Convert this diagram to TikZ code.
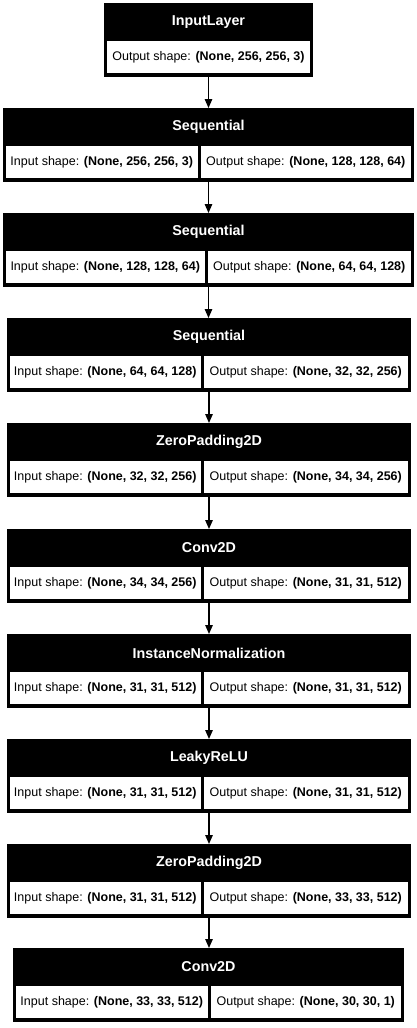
\documentclass[tikz,border=0pt]{standalone}
\usepackage{fontspec}
\setmainfont{Liberation Sans}
\usetikzlibrary{arrows.meta}

\def\BoxH{74}
\def\HeadH{38}
\def\CellH{32}

\tikzset{
  layerbox/.style={fill=black, inner sep=0pt, outer sep=0pt, anchor=north west, minimum height=\BoxH},
  headtext/.style={text=white, font=\fontsize{14.3}{16}\selectfont\bfseries, inner sep=0pt},
  cellbox/.style={fill=white, inner sep=0pt, outer sep=0pt, anchor=north west, minimum height=\CellH, font=\fontsize{12.5}{14}\selectfont},
  flow/.style={line width=1.3pt, -{Triangle[length=9pt,width=7.5pt]}},
}

\begin{document}
\begin{tikzpicture}[x=1pt,y=-1pt]
  \useasboundingbox (0,0) rectangle (416,1028);

  % --- Entrada ---
  \node[layerbox, minimum width=209] (L0) at (104,3) {};
  \node[headtext] (H0) at (208.5,3+19) {InputLayer};
  \node[cellbox, minimum width=203] (O0) at (107,3+\HeadH) {Output shape: \textbf{(None, 256, 256, 3)}};

  % --- Capas ---
  \foreach \i/\top/\L/\R/\D/\name/\inp/\outp in {%
    1/108/3/414/199/Sequential/{(None, 256, 256, 3)}/{(None, 128, 128, 64)},
    2/213/3/414/206/Sequential/{(None, 128, 128, 64)}/{(None, 64, 64, 128)},
    3/318/7/411/202/Sequential/{(None, 64, 64, 128)}/{(None, 32, 32, 256)},
    4/423/7/411/202/ZeroPadding2D/{(None, 32, 32, 256)}/{(None, 34, 34, 256)},
    5/529/7/411/202/Conv2D/{(None, 34, 34, 256)}/{(None, 31, 31, 512)},
    6/634/7/411/202/InstanceNormalization/{(None, 31, 31, 512)}/{(None, 31, 31, 512)},
    7/739/7/411/202/LeakyReLU/{(None, 31, 31, 512)}/{(None, 31, 31, 512)},
    8/844/7/411/202/ZeroPadding2D/{(None, 31, 31, 512)}/{(None, 33, 33, 512)},
    9/948/13/404/209/Conv2D/{(None, 33, 33, 512)}/{(None, 30, 30, 1)}%
  }{
    \node[layerbox, minimum width=\R-\L] (L\i) at (\L,\top) {};
    \node[headtext] (H\i) at ({(\L+\R)/2},\top+19) {\name};
    \node[cellbox, minimum width=\D-\L-4.5] (I\i) at (\L+3,\top+\HeadH) {Input shape: \textbf{\inp}};
    \node[cellbox, minimum width=\R-\D-4.5] (O\i) at (\D+1.5,\top+\HeadH) {Output shape: \textbf{\outp}};
  }

  % --- Flechas ---
  \foreach \i [evaluate=\i as \j using int(\i+1)] in {0,...,8}{
    \draw[flow] (L\i.south) -- (L\i.south |- L\j.north);
  }
\end{tikzpicture}
\end{document}
